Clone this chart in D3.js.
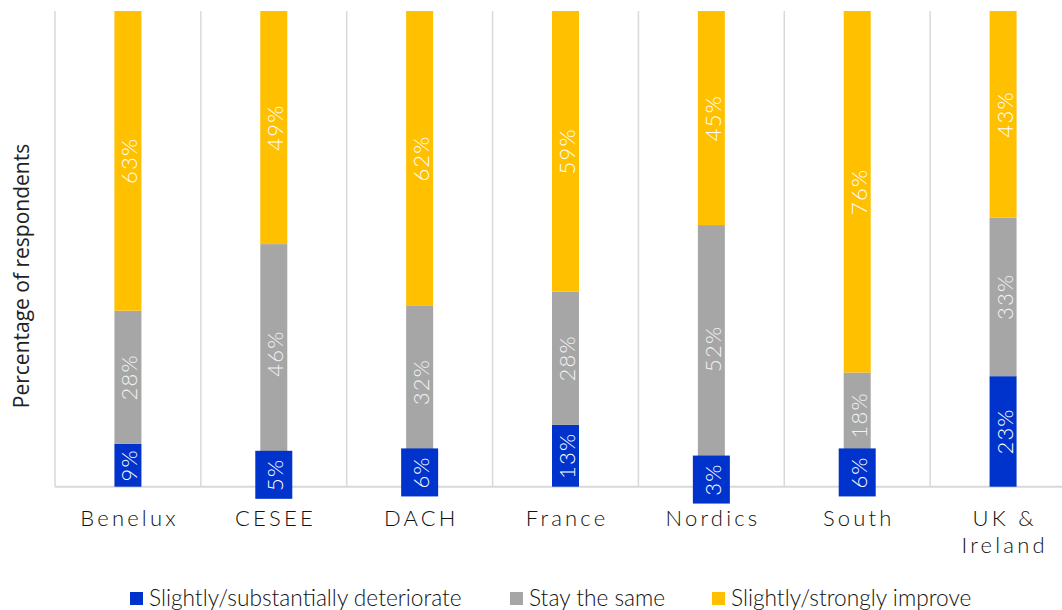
<!DOCTYPE html>
<html><head><meta charset="utf-8">
<script src="https://cdn.jsdelivr.net/npm/d3@7"></script>
<style>
body{margin:0;background:#fff;}
svg{display:block;}
</style></head>
<body>
<svg id="chart" width="1062" height="610"></svg>
<script>
const categories = ["Benelux","CESEE","DACH","France","Nordics","South","UK & Ireland"];
const categoryLines = [["Benelux"],["CESEE"],["DACH"],["France"],["Nordics"],["South"],["UK &","Ireland"]];
const deteriorate = [9,5,6,13,3,6,23];
const stayTheSame = [28,46,32,28,52,18,33];
const improve = [63,49,62,59,45,76,43];
const seriesNames = ["Slightly/substantially deteriorate","Stay the same","Slightly/strongly improve"];
const seriesKeys = ["det","same","imp"];
const colors = ["#0033cc","#a6a6a6","#ffc000"];

const rows = categories.map((c,i)=>({cat:c, det:deteriorate[i], same:stayTheSame[i], imp:improve[i]}));

const svg = d3.select("#chart");
const plotLeft = 55, plotRight = 1076, plotTop = 11, plotBottom = 486.7;
const x = d3.scaleBand().domain(categories).range([plotLeft,plotRight]).paddingInner(0).paddingOuter(0);
const y = d3.scaleLinear().domain([0,1]).range([plotBottom,plotTop]);
const barW = 27;

const stack = d3.stack().keys(seriesKeys).offset(d3.stackOffsetExpand);
const stacked = stack(rows);

const font = "Lato, 'Open Sans', sans-serif";

// gridlines
svg.append("g").selectAll("line").data(categories).join("line")
  .attr("x1",d=>x(d)).attr("x2",d=>x(d)).attr("y1",plotTop).attr("y2",plotBottom)
  .attr("stroke","#d9d9d9").attr("stroke-width",1.5);
svg.append("line").attr("x1",plotLeft).attr("x2",1062).attr("y1",plotBottom).attr("y2",plotBottom)
  .attr("stroke","#d9d9d9").attr("stroke-width",2);

// bars
const g = svg.append("g");
stacked.forEach((s,si)=>{
  g.append("g").selectAll("rect").data(s).join("rect")
    .attr("x",d=>x(d.data.cat)+x.bandwidth()/2-barW/2)
    .attr("width",barW)
    .attr("y",d=>y(d[1]))
    .attr("height",d=>y(d[0])-y(d[1]))
    .attr("fill",colors[si]);
});

// labels
const boxW = 37, boxH = 48;
stacked.forEach((s,si)=>{
  s.forEach(d=>{
    const cx = x(d.data.cat)+x.bandwidth()/2;
    const cy = (y(d[0])+y(d[1]))/2;
    const h = y(d[0])-y(d[1]);
    const val = d.data[seriesKeys[si]];
    if(h < 36){
      svg.append("rect").attr("x",cx-boxW/2).attr("y",cy-boxH/2)
        .attr("width",boxW).attr("height",boxH).attr("fill",colors[si]);
    }
    svg.append("text")
      .attr("transform",`translate(${cx+1},${cy}) rotate(-90)`)
      .attr("text-anchor","middle").attr("dominant-baseline","central")
      .attr("font-family",font).attr("font-size",22).attr("font-weight",300)
      .attr("letter-spacing",1.2)
      .attr("fill", si===1 ? "#f2f2f2" : "#ffffff")
      .text(val+"%");
  });
});

// x labels
categories.forEach((c,i)=>{
  const t = svg.append("text").attr("text-anchor","middle")
    .attr("font-family",font).attr("font-size",22).attr("font-weight",300)
    .attr("letter-spacing",3.2).attr("fill","#111");
  categoryLines[i].forEach((ln,li)=>{
    t.append("tspan").attr("x",x(c)+x.bandwidth()/2+1.6).attr("y",526+li*27).text(ln);
  });
});

// y title
svg.append("text").attr("transform",`translate(29,276) rotate(-90)`)
  .attr("text-anchor","middle").attr("font-family","'Open Sans', sans-serif")
  .attr("font-size",21).attr("fill","#222").text("Percentage of respondents");

// legend
const legendX = [130, 510, 712];
seriesNames.forEach((n,i)=>{
  svg.append("rect").attr("x",legendX[i]).attr("y",592).attr("width",13).attr("height",13).attr("fill",colors[i]);
  svg.append("text").attr("x",legendX[i]+19).attr("y",606)
    .attr("font-family",font).attr("font-size",22.7).attr("font-weight",300)
    .attr("fill","#111").text(n);
});
</script>
</body></html>
